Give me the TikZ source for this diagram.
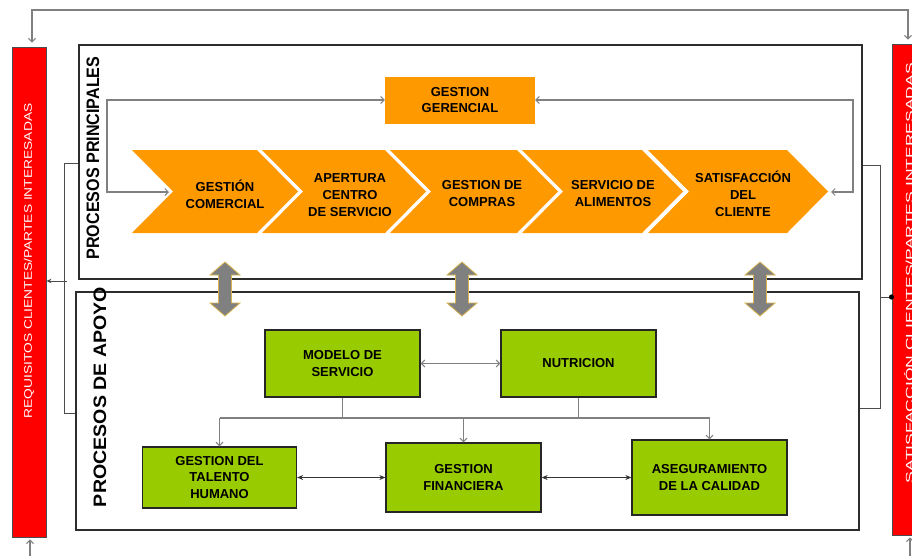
\documentclass[tikz,border=0pt]{standalone}
\usepackage{fontspec}
\setmainfont{Liberation Sans}
\usetikzlibrary{arrows.meta}

\definecolor{procorange}{RGB}{255,153,0}
\definecolor{procgreen}{RGB}{153,204,0}
\definecolor{barred}{RGB}{255,0,0}
\definecolor{linkgray}{RGB}{128,128,128}
\definecolor{framegray}{RGB}{45,45,45}
\definecolor{arrowgold}{RGB}{215,180,80}

\tikzset{
  barb/.tip={Straight Barb[length=3.5pt,width=7pt,line width=1pt]},
  blktip/.tip={Stealth[length=6pt,width=5pt]},
  frame/.style={draw=framegray,line width=2pt,inner sep=0pt},
  sidebar/.style={fill=barred,draw=black!70,line width=0.9pt,inner sep=0pt},
  obox/.style={fill=procorange,inner sep=0pt,align=center,
    font=\bfseries\fontsize{13}{16.5}\selectfont},
  chevtext/.style={inner sep=0pt,align=center,
    font=\bfseries\fontsize{13}{17}\selectfont},
  gbox/.style={fill=procgreen,draw=black!85,line width=1.3pt,inner sep=0pt,
    minimum width=155pt,align=center,font=\bfseries\fontsize{13}{16.5}\selectfont},
  link/.style={draw=linkgray,line width=1.2pt},
  darklink/.style={draw=black!70,line width=1pt},
  blklink/.style={draw=black!80,line width=1.1pt},
  bidir/.style={fill=linkgray,draw=arrowgold,line width=0.8pt},
}

\begin{document}
\begin{tikzpicture}[x=1pt,y=-1pt]
\useasboundingbox (0,0) rectangle (912,555);
\clip (0,0) rectangle (912,555);

% side bars
\node[sidebar,minimum width=34pt,minimum height=490pt] (reqbar) at (29,292) {};
\node[sidebar,minimum width=34pt,minimum height=491pt] (satbar) at (909,289.5) {};
\node[rotate=90,text=white,inner sep=0pt] (reqtxt) at (29,261)
  {\resizebox{315pt}{\height}{\fontsize{11}{11}\selectfont REQUISITOS CLIENTES/PARTES INTERESADAS}};
\node[rotate=90,text=white,inner sep=0pt] (sattxt) at (909,273)
  {\resizebox{420pt}{\height}{\fontsize{11}{11}\selectfont SATISFACCIÓN CLIENTES/PARTES INTERESADAS}};

% process frames
\node[frame,minimum width=783pt,minimum height=234pt] (pp) at (470.5,162) {};
\node[frame,minimum width=783pt,minimum height=238pt] (pa) at (467.5,411) {};
\node[rotate=90,inner sep=0pt] (lblpp) at (93,158)
  {\resizebox{203pt}{\height}{\bfseries\fontsize{18}{18}\selectfont PROCESOS PRINCIPALES}};
\node[rotate=90,inner sep=0pt] (lblpa) at (100,397)
  {\resizebox{220pt}{\height}{\bfseries\fontsize{18}{18}\selectfont PROCESOS DE APOYO}};

% outer loop from the requirements bar to the satisfaction bar
\coordinate (topl) at (32,10);
\coordinate (topr) at (908,10);
\draw[link,barb-barb,shorten <=4pt,shorten >=4pt]
  (topl |- reqbar.north) -- (topl) -- (topr) -- (topr |- satbar.north);
\coordinate (botl) at (30,565);
\coordinate (botr) at (910,565);
\draw[link,-barb,shorten >=2pt] (botl) -- (botl |- reqbar.south);
\draw[link,-barb,shorten >=2pt] (botr) -- (botr |- satbar.south);

% left bracket joining both frames to the requirements bar
\coordinate (lt) at (64,163);
\coordinate (lb) at (64,413);
\coordinate (lm) at (67,281);
\draw[darklink] (lt -| pp.west) -- (lt) -- (lb) -- (lb -| pa.west);
\draw[darklink,-{Stealth[length=5pt,width=4.5pt]}] (lm) -- (lm -| reqbar.east);

% right bracket joining both frames to the satisfaction bar
\coordinate (rt) at (880,165);
\coordinate (rb) at (880,408);
\coordinate (rm) at (880,297);
\draw[darklink] (rt -| pp.east) -- (rt) -- (rb) -- (rb -| pa.east);
\draw[darklink] (rm) -- (rm -| satbar.west);
\fill[black] (rm -| satbar.west) circle (2.6pt);

% main value chain
\node[obox,minimum width=150pt,minimum height=47pt] (gg) at (460,100) {GESTION\\GERENCIAL};
\foreach \xl/\xs in {132/257,262/385,390/517,522/642,648/787}
  \fill[procorange] (\xl,150) -- (\xs,150) -- (\xs+41,191.5) -- (\xs,233)
    -- (\xl,233) -- (\xl+41,191.5) -- cycle;
\node[chevtext] (c1) at (225,194) {GESTIÓN\\COMERCIAL};
\node[chevtext] (c2) at (350,195) {APERTURA\\CENTRO\\DE SERVICIO};
\node[chevtext] (c3) at (482,194) {GESTION DE\\COMPRAS};
\node[chevtext] (c4) at (613,194) {SERVICIO DE\\ALIMENTOS};
\node[chevtext] (c5) at (743,194) {SATISFACCIÓN\\DEL\\CLIENTE};

% management feedback loop
\coordinate (n1) at (169,192);
\coordinate (t5) at (831,192);
\coordinate (lk) at (107,100);
\coordinate (rk) at (853,100);
\draw[link,barb-barb] (n1) -| (lk) -- (gg.west);
\draw[link,barb-barb] (t5) -| (rk) -- (gg.east);

% exchange arrows between the two frames
\foreach \x in {225,462,760}
  \draw[bidir] (\x,262) -- (\x+15,275) -- (\x+6.5,275) -- (\x+6.5,303) -- (\x+15,303)
    -- (\x,316) -- (\x-15,303) -- (\x-6.5,303) -- (\x-6.5,275) -- (\x-15,275) -- cycle;

% support processes
\node[gbox,minimum height=67pt] (mod) at (342.5,363.5) {MODELO DE\\SERVICIO};
\node[gbox,minimum height=67pt] (nut) at (578.5,363.5) {NUTRICION};
\node[gbox,minimum width=154pt,minimum height=61pt] (tal) at (219.5,477.5) {GESTION DEL\\TALENTO\\HUMANO};
\node[gbox,minimum height=69pt] (fin) at (463.5,477.5) {GESTION\\FINANCIERA};
\node[gbox,minimum height=75pt] (ase) at (709.5,477.5) {ASEGURAMIENTO\\DE LA CALIDAD};

\draw[link,barb-barb] (mod.east) -- (nut.west);
\coordinate (busl) at (219.5,418);
\coordinate (busr) at (709.5,418);
\draw[link] (busl) -- (busr);
\draw[link] (mod.south) -- (mod.south |- busl);
\draw[link] (nut.south) -- (nut.south |- busl);
\draw[link,-barb] (busl) -- (tal.north);
\draw[link,-barb] (fin.north |- busl) -- (fin.north);
\draw[link,-barb] (busr) -- (ase.north);
\draw[blklink,blktip-blktip] (tal.east) -- (fin.west);
\draw[blklink,blktip-blktip] (fin.east) -- (ase.west);
\end{tikzpicture}
\end{document}
